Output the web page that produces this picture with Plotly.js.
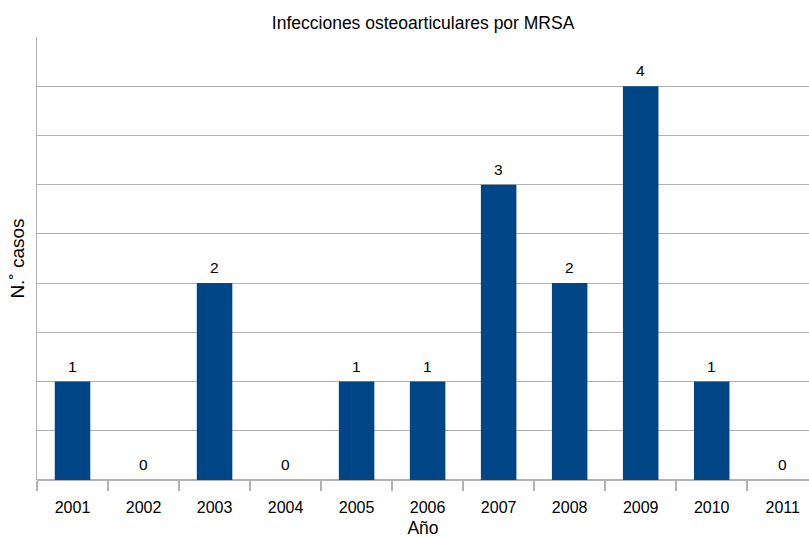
<!DOCTYPE html>
<html>
<head>
<meta charset="utf-8">
<script src="https://cdn.plot.ly/plotly-3.0.1.min.js"></script>
<style>html,body{margin:0;padding:0;background:#fff;}#chart{width:809px;height:538px;}</style>
</head>
<body>
<div id="chart"></div>
<script>
const years = ["2001","2002","2003","2004","2005","2006","2007","2008","2009","2010","2011"];
const cases = [1,0,2,0,1,1,3,2,4,1,0];
const chartTitle = "Infecciones osteoarticulares por MRSA";
const xTitle = "Año";
const yTitle = "N.˚ casos";

const font = "Liberation Sans, Arial, Helvetica, sans-serif";
const trace = {
  type: "bar",
  x: years,
  y: cases,
  width: 0.5,
  marker: {color: "#004586"},
  hoverinfo: "x+y"
};
// category axis: annotation x uses the category serial index
const annotations = years.map((yr, i) => ({
  x: i, y: cases[i], xref: "x", yref: "y",
  text: String(cases[i]), showarrow: false,
  xanchor: "center", yanchor: "middle", yshift: 15.5,
  font: {family: font, size: 15.5, color: "#000"}
}));
const layout = {
  width: 809, height: 538,
  margin: {l: 37, r: 0, t: 37, b: 58},
  paper_bgcolor: "#fff", plot_bgcolor: "#fff",
  showlegend: false,
  annotations: annotations,
  title: {text: chartTitle, font: {family: font, size: 17.5, color: "#000"}, x: 0.523, xanchor: "center", y: 0.957, yanchor: "middle"},
  xaxis: {
    type: "category",
    range: [-0.5, 10.37],
    tickson: "boundaries",
    ticks: "outside", ticklen: 10, tickcolor: "#b3b3b3", tickwidth: 1.5,
    ticklabelstandoff: 16,
    showline: false,
    showgrid: false,
    tickfont: {family: font, size: 16, color: "#000"},
    title: {text: xTitle, font: {family: font, size: 17.5, color: "#000"}, standoff: 14},
    fixedrange: true
  },
  yaxis: {
    range: [0, 4.5],
    dtick: 0.5,
    showticklabels: false,
    ticks: "",
    showgrid: true, gridcolor: "#b3b3b3", gridwidth: 1,
    showline: true, linecolor: "#b3b3b3", linewidth: 1.5,
    zeroline: true, zerolinecolor: "#b3b3b3", zerolinewidth: 1.5,
    title: {text: yTitle, font: {family: font, size: 19, color: "#000"}, standoff: 6},
    fixedrange: true
  },
  bargap: 0.5
};
Plotly.newPlot("chart", [trace], layout, {displayModeBar: false, staticPlot: true});
</script>
</body>
</html>
